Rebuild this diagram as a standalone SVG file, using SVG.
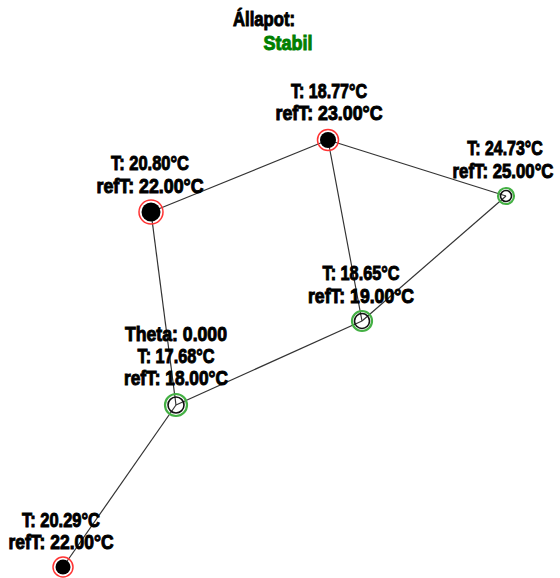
<svg xmlns="http://www.w3.org/2000/svg" width="560" height="578" viewBox="0 0 560 578">
  <style>
    text { font-family: "Liberation Sans Narrow", "Arial Narrow", "Liberation Sans", sans-serif; font-weight: bold; font-size: 21px; text-anchor: middle; fill: #000; stroke: #000; stroke-width: 1px; }
    .status { fill: #008000; stroke: #008000; }
    .edge { stroke: #333; stroke-width: 1.2; fill: none; }
    .ring-hot { fill: none; stroke: #ff3333; stroke-width: 1.5; }
    .ring-ok { fill: none; stroke: #44b044; stroke-width: 2.2; }
    .core { fill: #000; }
    .hollow { fill: none; stroke: #111; stroke-width: 1.6; }
  </style>
  <rect width="560" height="578" fill="#fff"/>

  <g id="status">
    <text x="264" y="26" textLength="62" lengthAdjust="spacingAndGlyphs">Állapot:</text>
    <text class="status" x="288" y="50" textLength="49" lengthAdjust="spacingAndGlyphs">Stabil</text>
  </g>

  <g id="connectors">
    <line class="edge" x1="328" y1="140" x2="151" y2="212"/>
    <line class="edge" x1="328" y1="140" x2="506" y2="196"/>
    <line class="edge" x1="328" y1="140" x2="362" y2="321"/>
    <line class="edge" x1="151" y1="212" x2="176" y2="405"/>
    <line class="edge" x1="506" y1="196" x2="362" y2="321"/>
    <line class="edge" x1="362" y1="321" x2="176" y2="405"/>
    <line class="edge" x1="176" y1="405" x2="63" y2="567"/>
  </g>

  <g id="node-top">
    <circle class="ring-hot" cx="328" cy="140" r="10.5"/>
    <circle class="core" cx="328" cy="140" r="8"/>
    <text x="329" y="98" textLength="76" lengthAdjust="spacingAndGlyphs">T: 18.77°C</text>
    <text x="329" y="120" textLength="107" lengthAdjust="spacingAndGlyphs">refT: 23.00°C</text>
  </g>

  <g id="node-left">
    <circle class="ring-hot" cx="151" cy="212" r="12"/>
    <circle class="core" cx="151" cy="212" r="9.5"/>
    <text x="150" y="170" textLength="78" lengthAdjust="spacingAndGlyphs">T: 20.80°C</text>
    <text x="150" y="193" textLength="107" lengthAdjust="spacingAndGlyphs">refT: 22.00°C</text>
  </g>

  <g id="node-right">
    <circle class="ring-ok" cx="506" cy="196" r="8"/>
    <circle class="hollow" cx="506" cy="196" r="5.5"/>
    <!-- horizontally condensed so the labels stay inside the right edge -->
    <text transform="translate(505 155) scale(0.76 1)" x="0" y="0">T: 24.73°C</text>
    <text transform="translate(503 178) scale(0.8 1)" x="0" y="0">refT: 25.00°C</text>
  </g>

  <g id="node-mid">
    <circle class="ring-ok" cx="362" cy="321" r="10"/>
    <circle class="hollow" cx="362" cy="321" r="7.5"/>
    <text x="361" y="280" textLength="77" lengthAdjust="spacingAndGlyphs">T: 18.65°C</text>
    <text x="361" y="303" textLength="106" lengthAdjust="spacingAndGlyphs">refT: 19.00°C</text>
  </g>

  <g id="node-theta">
    <circle class="ring-ok" cx="176" cy="405" r="11"/>
    <circle class="hollow" cx="176" cy="405" r="8"/>
    <text x="176" y="341" textLength="102" lengthAdjust="spacingAndGlyphs">Theta: 0.000</text>
    <text x="176" y="363" textLength="77" lengthAdjust="spacingAndGlyphs">T: 17.68°C</text>
    <text x="176" y="385" textLength="104" lengthAdjust="spacingAndGlyphs">refT: 18.00°C</text>
  </g>

  <g id="node-bottom">
    <circle class="ring-hot" cx="63" cy="567" r="10"/>
    <circle class="core" cx="63" cy="567" r="7.5"/>
    <text x="61" y="527" textLength="78" lengthAdjust="spacingAndGlyphs">T: 20.29°C</text>
    <text x="61" y="549" textLength="105" lengthAdjust="spacingAndGlyphs">refT: 22.00°C</text>
  </g>
</svg>
